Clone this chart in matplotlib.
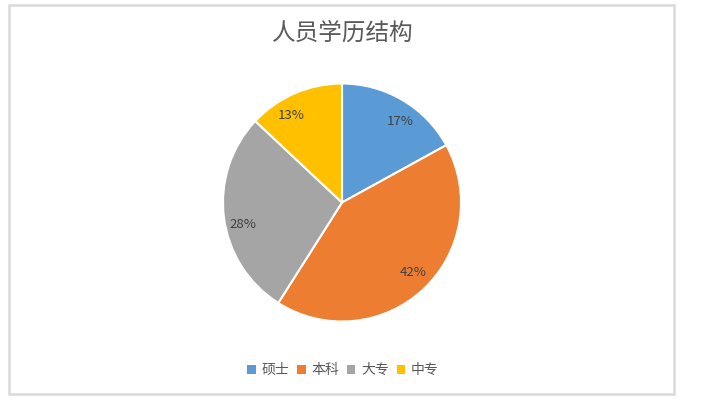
import matplotlib
matplotlib.use("Agg")
import matplotlib.pyplot as plt
from matplotlib.patches import Rectangle, Patch

plt.rcParams['font.family'] = ['Noto Sans CJK SC', 'DejaVu Sans']

title = "人员学历结构"
categories = ["硕士", "本科", "大专", "中专"]
values = [17, 42, 28, 13]
colors = ["#5B9BD5", "#ED7D31", "#A5A5A5", "#FFC000"]
# data-label anchor points (in pie radius units), as placed by the original chart
label_pos = [(0.487, 0.679), (0.599, -0.590), (-0.829, -0.189), (-0.429, 0.729)]

W, H = 701, 401
fig = plt.figure(figsize=(W / 100, H / 100), dpi=100)

# chart border
fig.patches.append(Rectangle((9 / W, (H - 394) / H), (674 - 9) / W, (394 - 5) / H,
                             transform=fig.transFigure, fill=False,
                             edgecolor="#D9D9D9", linewidth=1.8))

cx, cy, r = 342, 202.5, 119
ax = fig.add_axes([(cx - r) / W, (H - cy - r) / H, 2 * r / W, 2 * r / H])
wedges, texts = ax.pie(values, colors=colors, startangle=90, counterclock=False,
                       labels=[f"{v}%" for v in values], labeldistance=0.85,
                       wedgeprops=dict(edgecolor="white", linewidth=1.5),
                       textprops=dict(fontsize=9.5, color="#404040"))
for t, p in zip(texts, label_pos):
    t.set_position(p)
    t.set_horizontalalignment("center")
    t.set_verticalalignment("center")
ax.set_xlim(-1, 1)
ax.set_ylim(-1, 1)
ax.set_aspect("equal")
ax.axis("off")

fig.text(343 / W, 1 - 33 / H, title, ha="center", va="center",
         fontsize=17, color="#595959", fontweight="light")

handles = [Patch(facecolor=c, edgecolor="none") for c in colors]
fig.legend(handles, categories, loc="center", bbox_to_anchor=(343 / W, 1 - 370 / H),
           ncol=4, frameon=False, fontsize=10, labelcolor="#595959",
           handlelength=0.6, handleheight=0.6, handletextpad=0.4, columnspacing=0.6)

fig.savefig("out.png", dpi=100)
